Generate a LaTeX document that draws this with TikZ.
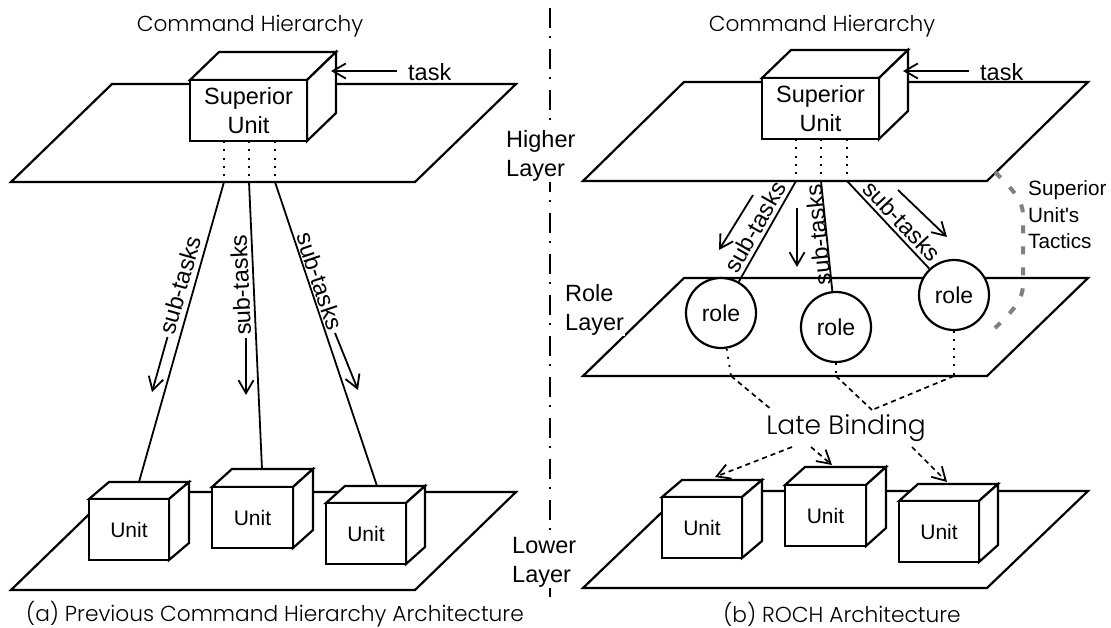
\documentclass[tikz,border=0pt]{standalone}
\usepackage{fontspec}
\setmainfont{Liberation Sans}
\newfontfamily\plainsans{Liberation Sans}
\newfontfamily\geofont{Poppins Light}
\usetikzlibrary{arrows.meta,calc}

\definecolor{tacticgray}{RGB}{128,128,128}

\tikzset{
  plane/.style={line width=2.2pt, line join=miter},
  face/.style={draw, line width=2.2pt, fill=white, inner sep=0pt, outer sep=0pt},
  cubeline/.style={line width=2.2pt, fill=white},
  supface/.style={face, align=center, font=\fontsize{23.5}{29}\selectfont},
  unitface/.style={face, font=\fontsize{21}{25}\selectfont},
  rolenode/.style={circle, draw, line width=2.2pt, fill=white, minimum size=70pt,
                   inner sep=0pt, font=\fontsize{23}{27}\selectfont},
  link/.style={line width=1.8pt},
  proj/.style={line width=1.8pt, dash pattern=on 2pt off 6.3pt},
  bind/.style={line width=1.7pt, dash pattern=on 5pt off 4pt},
  tip/.style={-{Straight Barb[length=13pt,width=15pt,line width=1.8pt]}},
  lbl/.style={font=\fontsize{23.5}{29}\selectfont, inner sep=0pt},
  layerlbl/.style={font=\fontsize{23.5}{29}\selectfont, align=left, anchor=west,
                   fill=white, inner sep=1pt},
  title/.style={font=\geofont\fontsize{21.7}{26}\selectfont, inner sep=0pt},
  bigtitle/.style={font=\geofont\fontsize{26.5}{32}\selectfont, inner sep=0pt},
  divider/.style={line width=2.4pt, dash pattern=on 20pt off 8pt on 2pt off 11pt},
  tactic/.style={line width=4pt, tacticgray, dash pattern=on 8pt off 13pt},
}

% cube: front face is a named node, top and side faces drawn from its corners
% #1 face style, #2 name, #3 centre, #4 width, #5 height, #6 #7 depth offset, #8 text
\newcommand{\boxcube}[8]{%
  \draw[cubeline] ($#3+(-#4/2,-#5/2)$) -- ++(#6,#7) -- ++(#4,0) -- ($#3+(#4/2,-#5/2)$) -- cycle;
  \draw[cubeline] ($#3+(#4/2,-#5/2)$) -- ++(#6,#7) -- ++(0,#5) -- ($#3+(#4/2,#5/2)$) -- cycle;
  \node[#1, minimum width=#4pt, minimum height=#5pt] (#2) at #3 {#8};
}

\begin{document}
\begin{tikzpicture}[x=1pt,y=-1pt]
\useasboundingbox (0,0) rectangle (1111,628);

% dash-dot separator between the two panels
\coordinate (divtop) at (550,8);
\coordinate (divbot) at (550,597);
\draw[divider] (divtop) -- (divbot);

% ================= (a) previous command hierarchy =================
\node[title] (titleA) at (250,26) {Command Hierarchy};

\draw[plane] (112,84) -- (516,84) -- (415,182) -- (11,182) -- cycle;
\draw[plane] (112,492) -- (516,492) -- (415,590) -- (11,590) -- cycle;

\coordinate (pa1) at (224,182);
\coordinate (pa2) at (249,182);
\coordinate (pa3) at (275,182);
\coordinate (ta1) at (139,482);
\coordinate (ta2) at (262,469);
\coordinate (ta3) at (377,486);

\draw[link] (pa1) -- (ta1);
\draw[link] (pa2) -- (ta2);
\draw[link] (pa3) -- (ta3);

\boxcube{supface}{supA}{(248.5,110.5)}{117}{61}{29}{-28}{Superior\\Unit}
\draw[proj] (pa1 |- supA.south) -- (pa1);
\draw[proj] (pa2 |- supA.south) -- (pa2);
\draw[proj] (pa3 |- supA.south) -- (pa3);

\boxcube{unitface}{ua1}{(129,529.5)}{80}{61}{20}{-17}{Unit}
\boxcube{unitface}{ua2}{(252.5,517.5)}{81}{61}{20}{-18}{Unit}
\boxcube{unitface}{ua3}{(366,533.5)}{80}{61}{19}{-17}{Unit}

% incoming task
\node[lbl, anchor=west] (taskA) at (408,72) {task};
\coordinate (taskAend) at (331,71);
\draw[link,tip] (taskA.west) ++(-11,-1) -- (taskAend);

% sub-task labels and their direction arrows
\node[lbl, rotate=74.1] (sA1) at (180,285) {sub-tasks};
\node[lbl, rotate=92.6] (sA2) at (240.5,285) {sub-tasks};
\node[lbl, rotate=-71.5] (sA3) at (320,281) {sub-tasks};
\coordinate (aA1s) at (167.5,337); \coordinate (aA1e) at (152,392);
\coordinate (aA2s) at (246,338);   \coordinate (aA2e) at (246,395);
\coordinate (aA3s) at (335,333);   \coordinate (aA3e) at (358,390);
\draw[link,tip] (aA1s) -- (aA1e);
\draw[link,tip] (aA2s) -- (aA2e);
\draw[link,tip] (aA3s) -- (aA3e);

\node[title] (capA) at (275,614) {(a) Previous Command Hierarchy Architecture};

% ================= (b) ROCH architecture =================
\node[title] (titleB) at (822,26) {Command Hierarchy};

\draw[plane] (684,82) -- (1088,82) -- (987,181) -- (583,181) -- cycle;
\draw[plane] (684,278) -- (1088,278) -- (987,376) -- (583,376) -- cycle;
\draw[plane] (684,491) -- (1088,491) -- (987,588) -- (583,588) -- cycle;

\coordinate (pb1) at (796,181);
\coordinate (pb2) at (821,181);
\coordinate (pb3) at (847,181);

\boxcube{supface}{supB}{(820.5,108.5)}{117}{61}{29}{-28}{Superior\\Unit}
\draw[proj] (pb1 |- supB.south) -- (pb1);
\draw[proj] (pb2 |- supB.south) -- (pb2);
\draw[proj] (pb3 |- supB.south) -- (pb3);

\node[lbl, anchor=west] (taskB) at (980,72) {task};
\coordinate (taskBend) at (903,71);
\draw[link,tip] (taskB.west) ++(-11,-1) -- (taskBend);

% roles on the role layer
\node[rolenode] (r1) at (721,313) {role};
\node[rolenode] (r2) at (836,327) {role};
\node[rolenode] (r3) at (954,295) {role};
\draw[link] (pb1) -- (r1);
\draw[link] (pb2) -- (r2);
\draw[link] (pb3) -- (r3);

\node[lbl, rotate=60.4] (sB1) at (755,227) {sub-tasks};
\node[lbl, rotate=95.6] (sB2) at (818,235) {sub-tasks};
\node[lbl, rotate=-46.8] (sB3) at (902,221) {sub-tasks};
\coordinate (aB1s) at (753,195); \coordinate (aB1e) at (719,250);
\coordinate (aB2s) at (797,208); \coordinate (aB2e) at (797,267);
\coordinate (aB3s) at (898,190); \coordinate (aB3e) at (947,237);
\draw[link,tip] (aB1s) -- (aB1e);
\draw[link,tip] (aB2s) -- (aB2e);
\draw[link,tip] (aB3s) -- (aB3e);

% superior unit's tactics
\coordinate (tc1) at (995,172);
\coordinate (tc2) at (1023,215);
\coordinate (tc3) at (1023,285);
\coordinate (tc4) at (995,328);
\draw[tactic] (tc1) .. controls (1012,189) and (1023,200) .. (tc2) -- (tc3)
  .. controls (1023,300) and (1012,312) .. (tc4);
\node[font=\plainsans\fontsize{20.7}{26.5}\selectfont, align=left, anchor=west, inner sep=0pt]
  (tactics) at (1028,215) {Superior\\Unit's\\Tactics};

% late binding of roles to units
\node[bigtitle] (lb) at (846,428) {Late Binding};
\coordinate (b1) at (731,376);
\coordinate (b2) at (836,376);
\coordinate (b3) at (954,376);
\coordinate (lb1) at (772,410);
\coordinate (lb2) at (872,410);
\draw[proj] (r1) -- (b1);
\draw[proj] (r2) -- (b2);
\draw[proj] (r3) -- (b3);
\draw[bind] (b1) -- (lb1);
\draw[bind] (b2) -- (lb2);
\draw[bind] (b3) -- (lb2);

\boxcube{unitface}{ub1}{(702,527.5)}{80}{61}{20}{-17}{Unit}
\boxcube{unitface}{ub2}{(825.5,515.5)}{81}{61}{20}{-18}{Unit}
\boxcube{unitface}{ub3}{(939,531.5)}{80}{61}{19}{-17}{Unit}

\coordinate (lbo1) at (792,447);
\coordinate (lbo2) at (811,447);
\coordinate (lbo3) at (912,447);
\coordinate (tb1) at (715,477);
\coordinate (tb2) at (832,465);
\coordinate (tb3) at (947,482);
\draw[bind,tip] (lbo1) -- (tb1);
\draw[bind,tip] (lbo2) -- (tb2);
\draw[bind,tip] (lbo3) -- (tb3);

\node[title] (capB) at (842,614) {(b) ROCH Architecture};

% layer names over the separator
\node[layerlbl] (higher) at (505,156) {Higher\\Layer};
\node[layerlbl] (rolel) at (564,310) {Role\\Layer};
\node[layerlbl] (lower) at (511,562) {Lower\\Layer};

\end{tikzpicture}
\end{document}
